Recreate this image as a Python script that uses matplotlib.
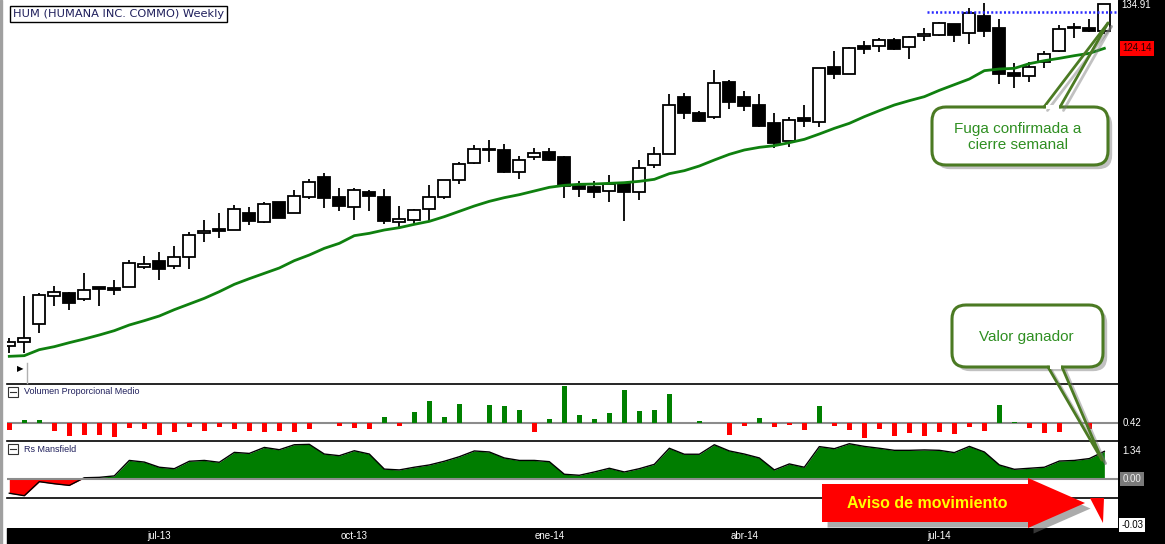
import matplotlib
matplotlib.use("Agg")
import matplotlib.pyplot as plt
from matplotlib.patches import FancyBboxPatch, Polygon, Rectangle
import matplotlib.patheffects as pe
import numpy as np

plt.rcParams['font.family'] = ['Liberation Sans', 'DejaVu Sans']

# ---------------- data (weekly candles, HUM) ----------------
opens = [52.79, 53.75, 57.99, 64.63, 65.35, 63.91, 66.87, 66.63, 66.79, 71.75,
         73.11, 71.99, 73.99, 79.75, 80.71, 80.47, 84.55, 82.39, 87.27, 84.55,
         88.39, 93.27, 88.47, 85.99, 89.67, 88.47, 82.55, 83.03, 85.67, 88.55,
         92.47, 96.71, 99.83, 99.67, 94.55, 97.99, 99.19, 98.07, 91.11, 90.87,
         89.99, 91.83, 89.59, 96.07, 98.71, 112.39, 108.55, 107.59, 116.07, 112.39,
         110.47, 106.15, 101.99, 107.43, 106.39, 119.67, 117.91, 124.71, 124.63, 126.07,
         124.39, 127.11, 127.35, 129.99, 127.75, 131.99, 128.95, 118.23, 117.43, 120.87,
         123.51, 129.11, 129.03, 128.31]
highs = [54.55, 64.71, 65.35, 67.11, 65.67, 70.15, 66.87, 68.55, 73.35, 74.31,
         75.19, 76.71, 79.99, 82.95, 84.55, 86.55, 86.15, 87.35, 87.27, 90.15,
         92.79, 94.31, 90.55, 90.55, 90.15, 90.39, 86.31, 85.59, 91.35, 92.47,
         96.79, 100.95, 102.15, 101.19, 98.31, 100.23, 100.23, 98.31, 92.23, 92.23,
         93.75, 92.07, 97.35, 100.47, 113.11, 113.43, 109.03, 118.95, 116.55, 113.91,
         113.19, 108.55, 107.75, 110.47, 119.35, 123.51, 124.47, 125.99, 126.71, 126.71,
         127.11, 128.95, 130.47, 129.99, 133.75, 135.11, 131.11, 120.71, 120.87, 123.59,
         129.75, 130.15, 131.11, 134.91]
lows = [50.95, 51.11, 55.91, 62.39, 61.35, 63.59, 62.39, 64.95, 66.79, 71.11,
        68.55, 71.27, 71.11, 77.75, 78.71, 80.47, 81.75, 82.15, 83.35, 84.55,
        87.91, 85.91, 85.19, 82.95, 85.19, 81.99, 81.35, 81.99, 82.79, 87.99,
        91.59, 96.39, 96.87, 94.23, 92.79, 97.43, 97.11, 88.23, 88.47, 88.23,
        87.27, 82.71, 87.75, 95.51, 98.71, 107.27, 106.47, 107.19, 109.59, 109.11,
        105.27, 100.31, 100.55, 105.35, 105.35, 116.79, 117.91, 122.87, 123.35, 123.75,
        121.59, 125.99, 127.03, 125.67, 125.11, 126.95, 115.51, 114.55, 116.07, 119.51,
        123.19, 126.55, 128.07, 127.51]
closes = [53.75, 54.55, 64.87, 65.59, 62.95, 66.07, 66.47, 66.23, 72.55, 72.31,
          71.11, 73.99, 79.27, 80.31, 80.39, 85.51, 82.79, 86.71, 83.51, 88.63,
          91.99, 88.31, 86.39, 90.07, 88.79, 82.79, 83.19, 85.35, 88.39, 92.47,
          96.31, 99.91, 99.99, 94.47, 97.27, 98.95, 97.43, 91.11, 90.47, 89.75,
          91.59, 89.75, 95.35, 98.71, 110.47, 108.71, 106.79, 115.83, 111.35, 110.39,
          105.59, 101.51, 106.95, 106.63, 119.35, 118.07, 124.15, 124.07, 126.07, 124.07,
          126.79, 127.59, 130.23, 127.43, 132.55, 128.39, 118.07, 117.43, 119.75, 122.87,
          128.71, 129.27, 128.23, 134.91]
moving_avg = [50.23, 50.39, 51.83, 52.55, 53.51, 54.39, 55.35, 56.39, 57.75, 58.79,
              59.91, 61.43, 62.79, 64.15, 65.75, 67.51, 68.87, 70.15, 71.43, 73.19,
              74.55, 76.15, 77.35, 79.19, 79.75, 80.55, 81.11, 81.91, 82.63, 83.75,
              85.03, 86.31, 87.43, 88.31, 89.03, 89.91, 90.79, 91.27, 91.51, 91.59,
              91.75, 91.91, 92.23, 92.71, 94.07, 94.79, 95.91, 97.35, 98.71, 99.75,
              100.39, 100.79, 101.51, 102.31, 103.59, 104.95, 106.15, 107.75, 109.19, 110.55,
              111.59, 112.55, 114.07, 115.43, 116.79, 118.79, 119.19, 119.35, 120.47, 121.19,
              121.75, 122.39, 122.95, 124.14]
volume_dev = [-0.20, 0.10, 0.10, -0.23, -0.38, -0.35, -0.35, -0.41, -0.13, -0.17,
              -0.35, -0.26, -0.11, -0.23, -0.11, -0.17, -0.23, -0.26, -0.23, -0.26,
              -0.17, 0.00, -0.07, -0.14, -0.17, 0.19, -0.08, 0.34, 0.67, 0.19,
              0.58, 0.00, 0.55, 0.52, 0.40, -0.26, 0.13, 1.12, 0.25, 0.13,
              0.31, 1.00, 0.37, 0.40, 0.88, 0.00, 0.07, 0.00, -0.35, -0.08,
              0.16, -0.11, -0.04, -0.20, 0.52, -0.08, -0.20, -0.44, -0.17, -0.38,
              -0.29, -0.38, -0.26, -0.32, -0.11, -0.23, 0.55, 0.04, -0.14, -0.29,
              -0.26, 0.00, -0.18, 0.00]
VOL_BASE = 0.42
rs_mansfield = [-0.69, -0.81, -0.13, -0.23, -0.31, 0.06, 0.08, 0.15, 0.90, 0.82,
                0.57, 0.50, 0.86, 0.90, 0.81, 1.29, 1.24, 1.53, 1.42, 1.66,
                1.68, 1.21, 1.13, 1.37, 1.21, 0.48, 0.44, 0.57, 0.68, 0.86,
                1.08, 1.36, 1.31, 1.02, 0.90, 0.90, 0.84, 0.23, 0.18, 0.34,
                0.52, 0.34, 0.50, 0.71, 1.49, 1.20, 1.20, 1.66, 1.36, 1.21,
                1.02, 0.44, 0.73, 0.57, 1.57, 1.47, 1.71, 1.58, 1.49, 1.39,
                1.39, 1.41, 1.39, 1.28, 1.58, 1.31, 0.68, 0.47, 0.52, 0.57,
                0.87, 0.90, 0.99, 1.34]
resist_level = 132.80
resist_start = 61.2
tick_pos = [10, 23, 36, 49, 62]
tick_labels = ['jul-13', 'oct-13', 'ene-14', 'abr-14', 'jul-14']
title = "HUM (HUMANA INC. COMMO) Weekly"

# ---------------- layout ----------------
W, H = 1165, 544
fig = plt.figure(figsize=(W / 100, H / 100), dpi=100)
fig.patch.set_facecolor('white')


def fr(x0, y0, x1, y1):
    return [x0 / W, 1 - y1 / H, (x1 - x0) / W, (y1 - y0) / H]


XL = (-0.153, 73.91)
x = np.arange(len(closes))

bg = fig.add_axes([0, 0, 1, 1], zorder=-5)
bg.set_xlim(0, W); bg.set_ylim(H, 0); bg.axis('off')
bg.add_patch(Rectangle((1118, 0), 47, 544, color='black'))
bg.add_patch(Rectangle((7, 528), 1158, 16, color='black'))
bg.add_patch(Rectangle((0, 0), 1.6, 544, color='#a0a0a0'))


def clean(a):
    a.set_xlim(*XL)
    for s in a.spines.values():
        s.set_visible(False)
    a.set_xticks([]); a.set_yticks([])
    a.set_facecolor('white')


# main price panel
ax = fig.add_axes(fr(7, 0, 1118, 384))
clean(ax)
ax.set_ylim(43.59, 135.75)
o = np.array(opens); c = np.array(closes)
up = c >= o
ax.vlines(x, lows, highs, color='black', lw=1.3, zorder=2)
ax.bar(x, np.maximum(np.abs(c - o), 0.12), bottom=np.minimum(o, c), width=0.8,
       color=np.where(up, 'white', 'black'), edgecolor='black', lw=1.3, zorder=3)
ax.plot(x, moving_avg, color='#0f800f', lw=2.0, zorder=4)
ax.hlines(resist_level, resist_start, XL[1], color='#2a2aff', lw=1.8,
          linestyles=(0, (0.8, 0.9)), zorder=4)
yt = ax.get_yaxis_transform()
ax.text(1.003, closes[-1] - 0.3, f"{closes[-1]:.2f}", transform=yt, color='white',
        fontsize=7, va='center', ha='left', clip_on=False)
ax.text(1.004, moving_avg[-1], f"{moving_avg[-1]:.2f}", transform=yt, color='#220000',
        fontsize=7, va='center', ha='left', clip_on=False,
        bbox=dict(boxstyle='square,pad=0.25', fc='#ff0000', ec='none'))

# volume panel
axv = fig.add_axes(fr(7, 384, 1118, 441))
clean(axv)
axv.set_ylim(VOL_BASE - 0.53, VOL_BASE + 1.18)
axv.spines['top'].set_visible(True); axv.spines['top'].set_linewidth(1.2)
vd = np.array(volume_dev)
axv.bar(x, vd, bottom=VOL_BASE, width=0.34,
        color=np.where(vd >= 0, '#008000', '#ff0000'), zorder=3)
axv.axhline(VOL_BASE, color='#8c8c8c', lw=1.5, zorder=2)
axv.text(1.004, VOL_BASE, f"{VOL_BASE:.2f}", transform=axv.get_yaxis_transform(),
         color='white', fontsize=7, va='center', ha='left', clip_on=False)

# RS Mansfield panel
axr = fig.add_axes(fr(7, 441, 1118, 498))
clean(axr)
axr.set_ylim(-0.921, 1.842)
axr.spines['top'].set_visible(True); axr.spines['top'].set_linewidth(1.2)
rs = np.array(rs_mansfield)
axr.fill_between(x, rs, 0, where=rs >= 0, interpolate=True, color='#007d00', lw=0, zorder=2)
axr.fill_between(x, rs, 0, where=rs < 0, interpolate=True, color='#ff0000', lw=0, zorder=2)
axr.plot(x, rs, color='black', lw=1.0, zorder=3)
axr.axhline(0, color='#8c8c8c', lw=1.5, zorder=4)
rt = axr.get_yaxis_transform()
axr.text(1.004, rs[-1], f"{rs[-1]:.2f}", transform=rt, color='white', fontsize=7,
         va='center', ha='left', clip_on=False)
axr.text(1.004, 0, "0.00", transform=rt, color='#eeeeee', fontsize=7,
         va='center', ha='left', clip_on=False,
         bbox=dict(boxstyle='square,pad=0.25', fc='#7a7a7a', ec='none'))

# bottom panel + date axis
axb = fig.add_axes(fr(7, 498, 1118, 528))
clean(axb)
axb.spines['top'].set_visible(True); axb.spines['top'].set_linewidth(1.2)
axb.set_xticks(tick_pos)
axb.set_xticklabels(tick_labels, color='white', fontsize=7)
axb.tick_params(axis='x', length=0, pad=2)
axb.text(1.003, 0.1, "-0.03", transform=axb.transAxes, color='black', fontsize=7,
         va='center', ha='left', clip_on=False,
         bbox=dict(boxstyle='square,pad=0.2', fc='white', ec='none'))

# ---------------- overlay annotations (pixel coords) ----------------
fg = fig.add_axes([0, 0, 1, 1], zorder=10)
fg.set_xlim(0, W); fg.set_ylim(H, 0); fg.axis('off')

fg.text(13, 14, title, fontsize=8.2, family='DejaVu Sans', color='#1f1f5c',
        va='center', ha='left',
        bbox=dict(boxstyle='square,pad=0.28', fc='white', ec='black', lw=1))

for yy, lab in [(392, 'Volumen Proporcional Medio'), (449, 'Rs Mansfield')]:
    fg.add_patch(Rectangle((8, yy - 5), 10, 10, fc='white', ec='#333333', lw=0.8))
    fg.plot([10, 16], [yy, yy], color='#333333', lw=0.8)
    fg.text(24, yy, lab, fontsize=6.5, color='#1f1f5c', va='center', ha='left')

fg.text(20, 369, '\u25b6', fontsize=6, family='DejaVu Sans', color='black',
        ha='center', va='center')
fg.plot([27, 27], [363, 383], color='#b0b0b0', lw=1)

OLIVE = '#4b7a23'
TXTG = '#2f8f22'
shadow = [pe.SimplePatchShadow(offset=(3, -3), shadow_rgbFace='#777777', alpha=0.45), pe.Normal()]
lshadow = [pe.SimpleLineShadow(offset=(2.5, -2.5), shadow_color='#777777', alpha=0.45), pe.Normal()]


def callout(x0, y0, x1, y1, base_a, base_b, base_y, apex, text, tx, ty):
    fg.add_patch(FancyBboxPatch((x0, y0), x1 - x0, y1 - y0,
                                boxstyle='round,pad=0,rounding_size=14',
                                fc='white', ec=OLIVE, lw=2.2, path_effects=shadow, zorder=5))
    for bx in (base_a, base_b):
        fg.plot([bx, apex[0]], [base_y, apex[1]], color=OLIVE, lw=2.0,
                path_effects=lshadow, zorder=6, solid_capstyle='round')
    fg.add_patch(Rectangle((base_a + 1.5, base_y - 2), base_b - base_a - 3, 4,
                           fc='white', ec='none', zorder=7))
    fg.text(tx, ty, text, fontsize=11, color=TXTG, ha='center', va='center',
            linespacing=1.25, zorder=8)


callout(932, 107, 1108, 165, 1044, 1060, 107, (1108, 23),
        'Fuga confirmada a\ncierre semanal', 1018, 137)
callout(952, 305, 1103, 367, 1048, 1062, 367, (1102, 460),
        'Valor ganador', 1026, 337)

arrow = Polygon([(822, 484), (1028, 484), (1028, 478), (1085, 503), (1028, 528),
                 (1028, 522), (822, 522)], closed=True, fc='#ff0000', ec='none', zorder=5,
                path_effects=[pe.SimplePatchShadow(offset=(4, -4), shadow_rgbFace='#666666',
                                                   alpha=0.55), pe.Normal()])
fg.add_patch(arrow)
fg.text(927, 503, 'Aviso de movimiento', fontsize=11.5, fontweight='bold',
        color='#ffff00', ha='center', va='center', zorder=6)
fg.add_patch(Polygon([(1090, 498), (1104, 498), (1103, 523)], closed=True,
                     fc='#ff0000', ec='none', zorder=5))

fig.savefig('out.png', dpi=100)
